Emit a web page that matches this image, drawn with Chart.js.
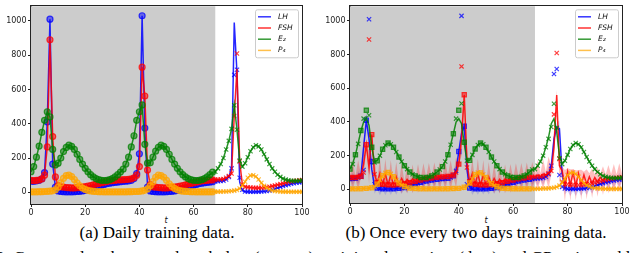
<!DOCTYPE html>
<html>
<head>
<meta charset="utf-8">
<script src="https://cdn.jsdelivr.net/npm/chart.js@4.4.0/dist/chart.umd.min.js"></script>
<style>
  body { margin: 0; width: 640px; height: 253px; overflow: hidden; background: #fff; position: relative; }
  canvas { position: absolute; top: 0; }
  #chartA { left: 0; }
  #chartB { left: 320px; }
  .tlabel { position: absolute; top: 217px; font: italic 8px "DejaVu Sans"; line-height: 8px; transform: translateX(-50%); color: #111; }
  .caption { position: absolute; top: 224px; font: 17px "Liberation Serif"; line-height: 17px; white-space: nowrap; transform: translateX(-50%); color: #000; }
  .figline { position: absolute; left: -4px; top: 249px; font: 17px "Liberation Serif"; line-height: 17px; white-space: nowrap; color: #000; }
</style>
</head>
<body>
<canvas id="chartA" width="320" height="215"></canvas>
<canvas id="chartB" width="320" height="215"></canvas>
<div class="tlabel" style="left:166px">t</div>
<div class="tlabel" style="left:486px">t</div>
<div class="caption" style="left:157px">(a) Daily training data.</div>
<div class="caption" style="left:476px">(b) Once every two days training data.</div>
<div class="figline">2: Compared to the ground-truth data (crosses), training data points (dots) and GP estimated latent</div>
<script>
// day index 0..100
const days = Array.from({ length: 101 }, (_, i) => i);
const trainEnd = 68;
const xTicks = [0, 20, 40, 60, 80, 100];
const yTicks = [0, 200, 400, 600, 800, 1000];

// measured hormone levels (one value per day)
const lhData = [65, 64, 66, 70, 78, 115, 410, 1010, 165, 30, 8,
  5, 4, 3, 3, 3, 4, 5, 6, 8,
  11, 15, 20, 26, 32, 37, 42, 46, 50, 53, 56, 58, 60, 62,
  64, 65, 66, 70, 80, 110, 225, 1030, 375, 30, 8,
  5, 4, 3, 3, 3, 4, 5, 6, 8,
  11, 15, 20, 26, 32, 37, 42, 46, 50, 53, 56, 58, 60, 62,
  64, 65, 66, 68, 75, 90, 140, 685, 715, 85, 15,
  5, 4, 3, 3, 3, 4, 5, 6, 8,
  11, 15, 20, 26, 32, 37, 42, 46, 50, 53, 56, 58, 60];
const fshData = [70, 68, 70, 72, 78, 100, 265, 890, 325, 90, 40,
  32, 30, 28, 27, 26, 26, 27, 28, 30,
  33, 36, 40, 44, 48, 52, 56, 60, 63, 66, 68, 70, 72, 73,
  74, 75, 76, 78, 85, 100, 150, 730, 562, 130, 45,
  32, 30, 28, 27, 26, 26, 27, 28, 30,
  33, 36, 40, 44, 48, 52, 56, 60, 63, 66, 68, 70, 72, 73,
  74, 75, 76, 78, 85, 95, 110, 445, 810, 180, 45,
  32, 30, 28, 27, 26, 26, 27, 28, 30,
  33, 36, 40, 44, 48, 52, 56, 60, 63, 66, 68, 70, 72];
const e2Data = [120, 150, 205, 270, 350, 420, 470, 440, 250, 160, 170,
  200, 238, 262, 275, 268, 250, 222, 192, 165,
  140, 120, 103, 90, 80, 74, 70, 69, 70, 74, 80, 90, 103, 118,
  135, 165, 205, 265, 330, 420, 470, 510, 280, 170, 172,
  205, 240, 263, 275, 268, 250, 222, 192, 165,
  140, 120, 103, 90, 80, 74, 70, 69, 70, 74, 80, 90, 103, 118,
  120, 140, 165, 200, 250, 300, 370, 508, 365, 185, 150,
  170, 205, 240, 263, 275, 268, 250, 222, 192,
  165, 140, 120, 103, 90, 80, 74, 70, 68, 67, 67, 68, 70];
const p4Data = [3, 3, 3, 4, 4, 5, 6, 7, 9, 15, 30,
  55, 82, 98, 100, 92, 75, 55, 38, 25,
  17, 11, 8, 6, 5, 4, 4, 3, 3, 3, 3, 3, 3, 3,
  3, 3, 4, 4, 5, 5, 6, 8, 12, 20, 38,
  62, 88, 100, 98, 88, 70, 50, 35, 23,
  15, 10, 7, 6, 5, 4, 4, 3, 3, 3, 3, 3, 3, 3,
  3, 4, 4, 5, 5, 6, 8, 10, 14, 22, 40,
  62, 85, 98, 100, 92, 75, 55, 38, 25,
  17, 11, 8, 6, 5, 4, 4, 3, 3, 3, 3, 3, 3];

// (a) predictions for the test days 68..100
const lhPredA = [64, 65, 66, 68, 75, 90, 140, 990, 700, 60, 10,
  4, 3, 2, 2, 3, 4, 5, 6, 8,
  11, 15, 20, 26, 32, 37, 42, 46, 50, 53, 56, 58, 60];
const fshPredA = [74, 75, 76, 78, 85, 95, 110, 445, 720, 180, 45,
  32, 30, 28, 27, 26, 26, 27, 28, 30,
  33, 36, 40, 44, 48, 52, 56, 60, 63, 66, 68, 70, 72];

// (b) GP estimates from data every two days
const lhFitB = [65, 63, 66, 70, 80, 250, 410, 300, 120, 15, 3,
  0, 2, 0, 3, 1, 4, 3, 6, 8,
  11, 15, 20, 26, 32, 37, 42, 46, 50, 53, 56, 58, 60, 62,
  64, 65, 66, 70, 80, 110, 225, 330, 375, 120, 10,
  2, 0, 3, 1, 4, 2, 5, 5, 8,
  11, 15, 20, 26, 32, 37, 42, 46, 50, 53, 56, 58, 60, 62,
  64, 65, 66, 68, 75, 90, 140, 300, 370, 360, 90,
  10, 2, 0, 3, 1, 4, 2, 5, 8,
  11, 15, 20, 26, 32, 37, 42, 46, 50, 53, 56, 58, 60];
const fshFitB = [70, 80, 70, 85, 78, 150, 265, 130, 325, 90, 40,
  95, 30, 90, 27, 85, 26, 75, 28, 65,
  33, 60, 40, 62, 48, 65, 56, 70, 63, 72, 68, 75, 72, 78,
  74, 80, 76, 85, 80, 100, 150, 300, 562, 160, 45,
  95, 30, 92, 27, 85, 26, 75, 28, 65,
  33, 60, 40, 62, 48, 65, 56, 70, 63, 72, 68, 75, 72, 78,
  74, 85, 76, 90, 85, 100, 110, 250, 560, 140, 110,
  20, 105, 25, 100, 22, 95, 26, 85, 30,
  75, 36, 70, 44, 72, 52, 70, 60, 70, 66, 70, 70, 72];
const e2FitB = [120, 155, 205, 275, 345, 400, 425, 380, 250, 165, 170,
  200, 238, 262, 275, 268, 250, 222, 192, 165,
  140, 120, 103, 90, 80, 74, 70, 69, 70, 74, 80, 90, 103, 118,
  135, 165, 205, 265, 330, 400, 420, 390, 270, 170, 172,
  205, 240, 263, 275, 268, 250, 222, 192, 165,
  140, 120, 103, 90, 80, 74, 70, 69, 70, 74, 80, 90, 103, 118,
  120, 140, 165, 200, 250, 310, 390, 420, 340, 200, 155,
  170, 205, 240, 263, 275, 268, 250, 222, 192,
  165, 140, 120, 103, 90, 80, 74, 70, 68, 67, 67, 68, 70];
const fshSigmaB = [10, 85, 10, 90, 10, 95, 10, 100, 10, 95,
  10, 90, 10, 90, 10, 90, 10, 88, 10, 88,
  10, 85, 10, 85, 10, 85, 10, 85, 10, 85,
  10, 85, 10, 85, 10, 85, 10, 88, 10, 90,
  10, 100, 10, 95, 10, 90, 10, 90, 10, 90,
  10, 88, 10, 88, 10, 85, 10, 85, 10, 85,
  10, 85, 10, 85, 10, 85, 10, 85, 20, 90,
  20, 90, 20, 95, 25, 100, 30, 100, 25, 95,
  20, 95, 20, 90, 20, 90, 20, 90, 20, 88,
  20, 88, 20, 85, 20, 85, 20, 85, 20, 85,
  20];
const lhSigmaB = [5, 35, 5, 40, 5, 45, 5, 50, 5, 40,
  5, 35, 5, 35, 5, 35, 5, 35, 5, 35,
  5, 35, 5, 35, 5, 35, 5, 35, 5, 35,
  5, 35, 5, 35, 5, 35, 5, 35, 5, 40,
  5, 50, 5, 45, 5, 35, 5, 35, 5, 35,
  5, 35, 5, 35, 5, 35, 5, 35, 5, 35,
  5, 35, 5, 35, 5, 35, 5, 35, 15, 40,
  15, 40, 15, 45, 20, 50, 25, 50, 20, 40,
  15, 40, 15, 40, 15, 40, 15, 40, 15, 40,
  15, 40, 15, 40, 15, 40, 15, 40, 15, 40,
  15];

const legendItems = [
  { label: 'LH', color: 'rgba(0,0,255,0.8)' },
  { label: 'FSH', color: 'rgba(255,0,0,0.8)' },
  { label: 'E₂', color: 'rgba(0,128,0,0.8)' },
  { label: 'P₄', color: 'rgba(255,165,0,0.7)' }
];
const colors = { lh: '0,0,255', fsh: '255,0,0', e2: '0,128,0', p4: '255,165,0' };

function pts(arr) {
  return arr.map((v, i) => ({ x: days[i], y: v }));
}

// grey training window, frame and legend
const decor = {
  id: 'decor',
  beforeDatasetsDraw(chart) {
    const { ctx, chartArea: a, scales } = chart;
    const x0 = scales.x.getPixelForValue(0);
    const x1 = scales.x.getPixelForValue(trainEnd);
    ctx.save();
    ctx.fillStyle = '#cccccc';
    ctx.fillRect(x0, a.top, x1 - x0, a.bottom - a.top);
    ctx.restore();
  },
  afterDraw(chart) {
    const { ctx, chartArea: a } = chart;
    ctx.save();
    ctx.strokeStyle = '#222';
    ctx.lineWidth = 1;
    ctx.strokeRect(Math.round(a.left) - 0.5, Math.round(a.top) - 0.5, Math.round(a.right - a.left) + 1, Math.round(a.bottom - a.top) + 1);
    // legend
    const w = 43, h = 48;
    const x = a.right - 4 - w, y = a.top + 3;
    ctx.fillStyle = 'rgba(255,255,255,0.85)';
    ctx.strokeStyle = '#cccccc';
    ctx.beginPath();
    ctx.roundRect(x + 0.5, y + 0.5, w, h, 2);
    ctx.fill();
    ctx.stroke();
    ctx.font = 'italic 7.5px "DejaVu Sans"';
    ctx.textBaseline = 'middle';
    legendItems.forEach((it, i) => {
      const yy = y + 7.5 + i * 11.2;
      ctx.strokeStyle = it.color;
      ctx.lineWidth = 1.5;
      ctx.beginPath();
      ctx.moveTo(x + 3, yy);
      ctx.lineTo(x + 16, yy);
      ctx.stroke();
      ctx.fillStyle = '#111';
      ctx.fillText(it.label, x + 23, yy);
    });
    ctx.restore();
  }
};

function lineSet(data, c) {
  return { data: pts(data), borderColor: 'rgba(' + c + ',0.85)', borderWidth: 1.5, pointRadius: 0, fill: false };
}

function markerSet(data, c, styleFn) {
  return {
    data: pts(data), showLine: false,
    pointStyle: ctx => styleFn(ctx.dataIndex),
    pointRadius: 3, pointBorderWidth: 1.2,
    pointBackgroundColor: 'rgba(' + c + ',0.5)',
    pointBorderColor: 'rgba(' + c + ',0.75)'
  };
}

function makeOptions(yMin, yMax, axisW, axisH) {
  const font = { family: 'DejaVu Sans', size: 8 };
  return {
    responsive: false,
    animation: false,
    layout: { padding: { left: 0, right: 18, top: 1, bottom: 0 } },
    plugins: { legend: { display: false }, tooltip: { enabled: false } },
    scales: {
      x: {
        type: 'linear', min: 0, max: 100,
        afterBuildTicks: s => { s.ticks = xTicks.map(v => ({ value: v })); },
        afterFit: s => { s.height = axisH; },
        ticks: { font: font, color: '#222', padding: 1, maxRotation: 0, callback: v => String(v) },
        grid: { drawOnChartArea: false, tickLength: 3, color: '#222' },
        border: { color: '#222' }
      },
      y: {
        min: yMin, max: yMax,
        afterBuildTicks: s => { s.ticks = yTicks.map(v => ({ value: v })); },
        afterFit: s => { s.width = axisW; },
        ticks: { font: font, color: '#222', padding: 1.5, callback: v => String(v) },
        grid: { drawOnChartArea: false, tickLength: 3, color: '#222' },
        border: { color: '#222' }
      }
    }
  };
}

// (a) daily training data
const styleA = i => (i < trainEnd ? 'circle' : 'crossRot');
const lhFitA = lhData.slice(0, trainEnd).concat(lhPredA);
const fshFitA = fshData.slice(0, trainEnd).concat(fshPredA);
new Chart(document.getElementById('chartA'), {
  type: 'line',
  data: {
    datasets: [
      markerSet(p4Data, colors.p4, styleA), lineSet(p4Data, colors.p4),
      markerSet(e2Data, colors.e2, styleA), lineSet(e2Data, colors.e2),
      markerSet(fshData, colors.fsh, styleA), lineSet(fshFitA, colors.fsh),
      markerSet(lhData, colors.lh, styleA), lineSet(lhFitA, colors.lh)
    ]
  },
  options: makeOptions(-68, 1085, 31, 11),
  plugins: [decor]
});

// (b) training data every two days
const styleB = i => (i < trainEnd && i % 2 === 0 ? 'rect' : 'crossRot');
function band(fit, sigma, c, alpha) {
  return [
    { data: pts(fit.map((v, i) => v + sigma[i])), borderWidth: 0, pointRadius: 0, fill: '+1', backgroundColor: 'rgba(' + c + ',' + alpha + ')' },
    { data: pts(fit.map((v, i) => v - sigma[i])), borderWidth: 0, pointRadius: 0, fill: false }
  ];
}
new Chart(document.getElementById('chartB'), {
  type: 'line',
  data: {
    datasets: [
      markerSet(p4Data, colors.p4, styleB), lineSet(p4Data, colors.p4),
      markerSet(e2Data, colors.e2, styleB), lineSet(e2FitB, colors.e2),
      markerSet(fshData, colors.fsh, styleB), lineSet(fshFitB, colors.fsh),
      markerSet(lhData, colors.lh, styleB), lineSet(lhFitB, colors.lh)
    ].concat(band(fshFitB, fshSigmaB, colors.fsh, 0.25), band(lhFitB, lhSigmaB, colors.lh, 0.15))
  },
  options: makeOptions(-81, 1087, 30, 12),
  plugins: [decor]
});
</script>
</body>
</html>
